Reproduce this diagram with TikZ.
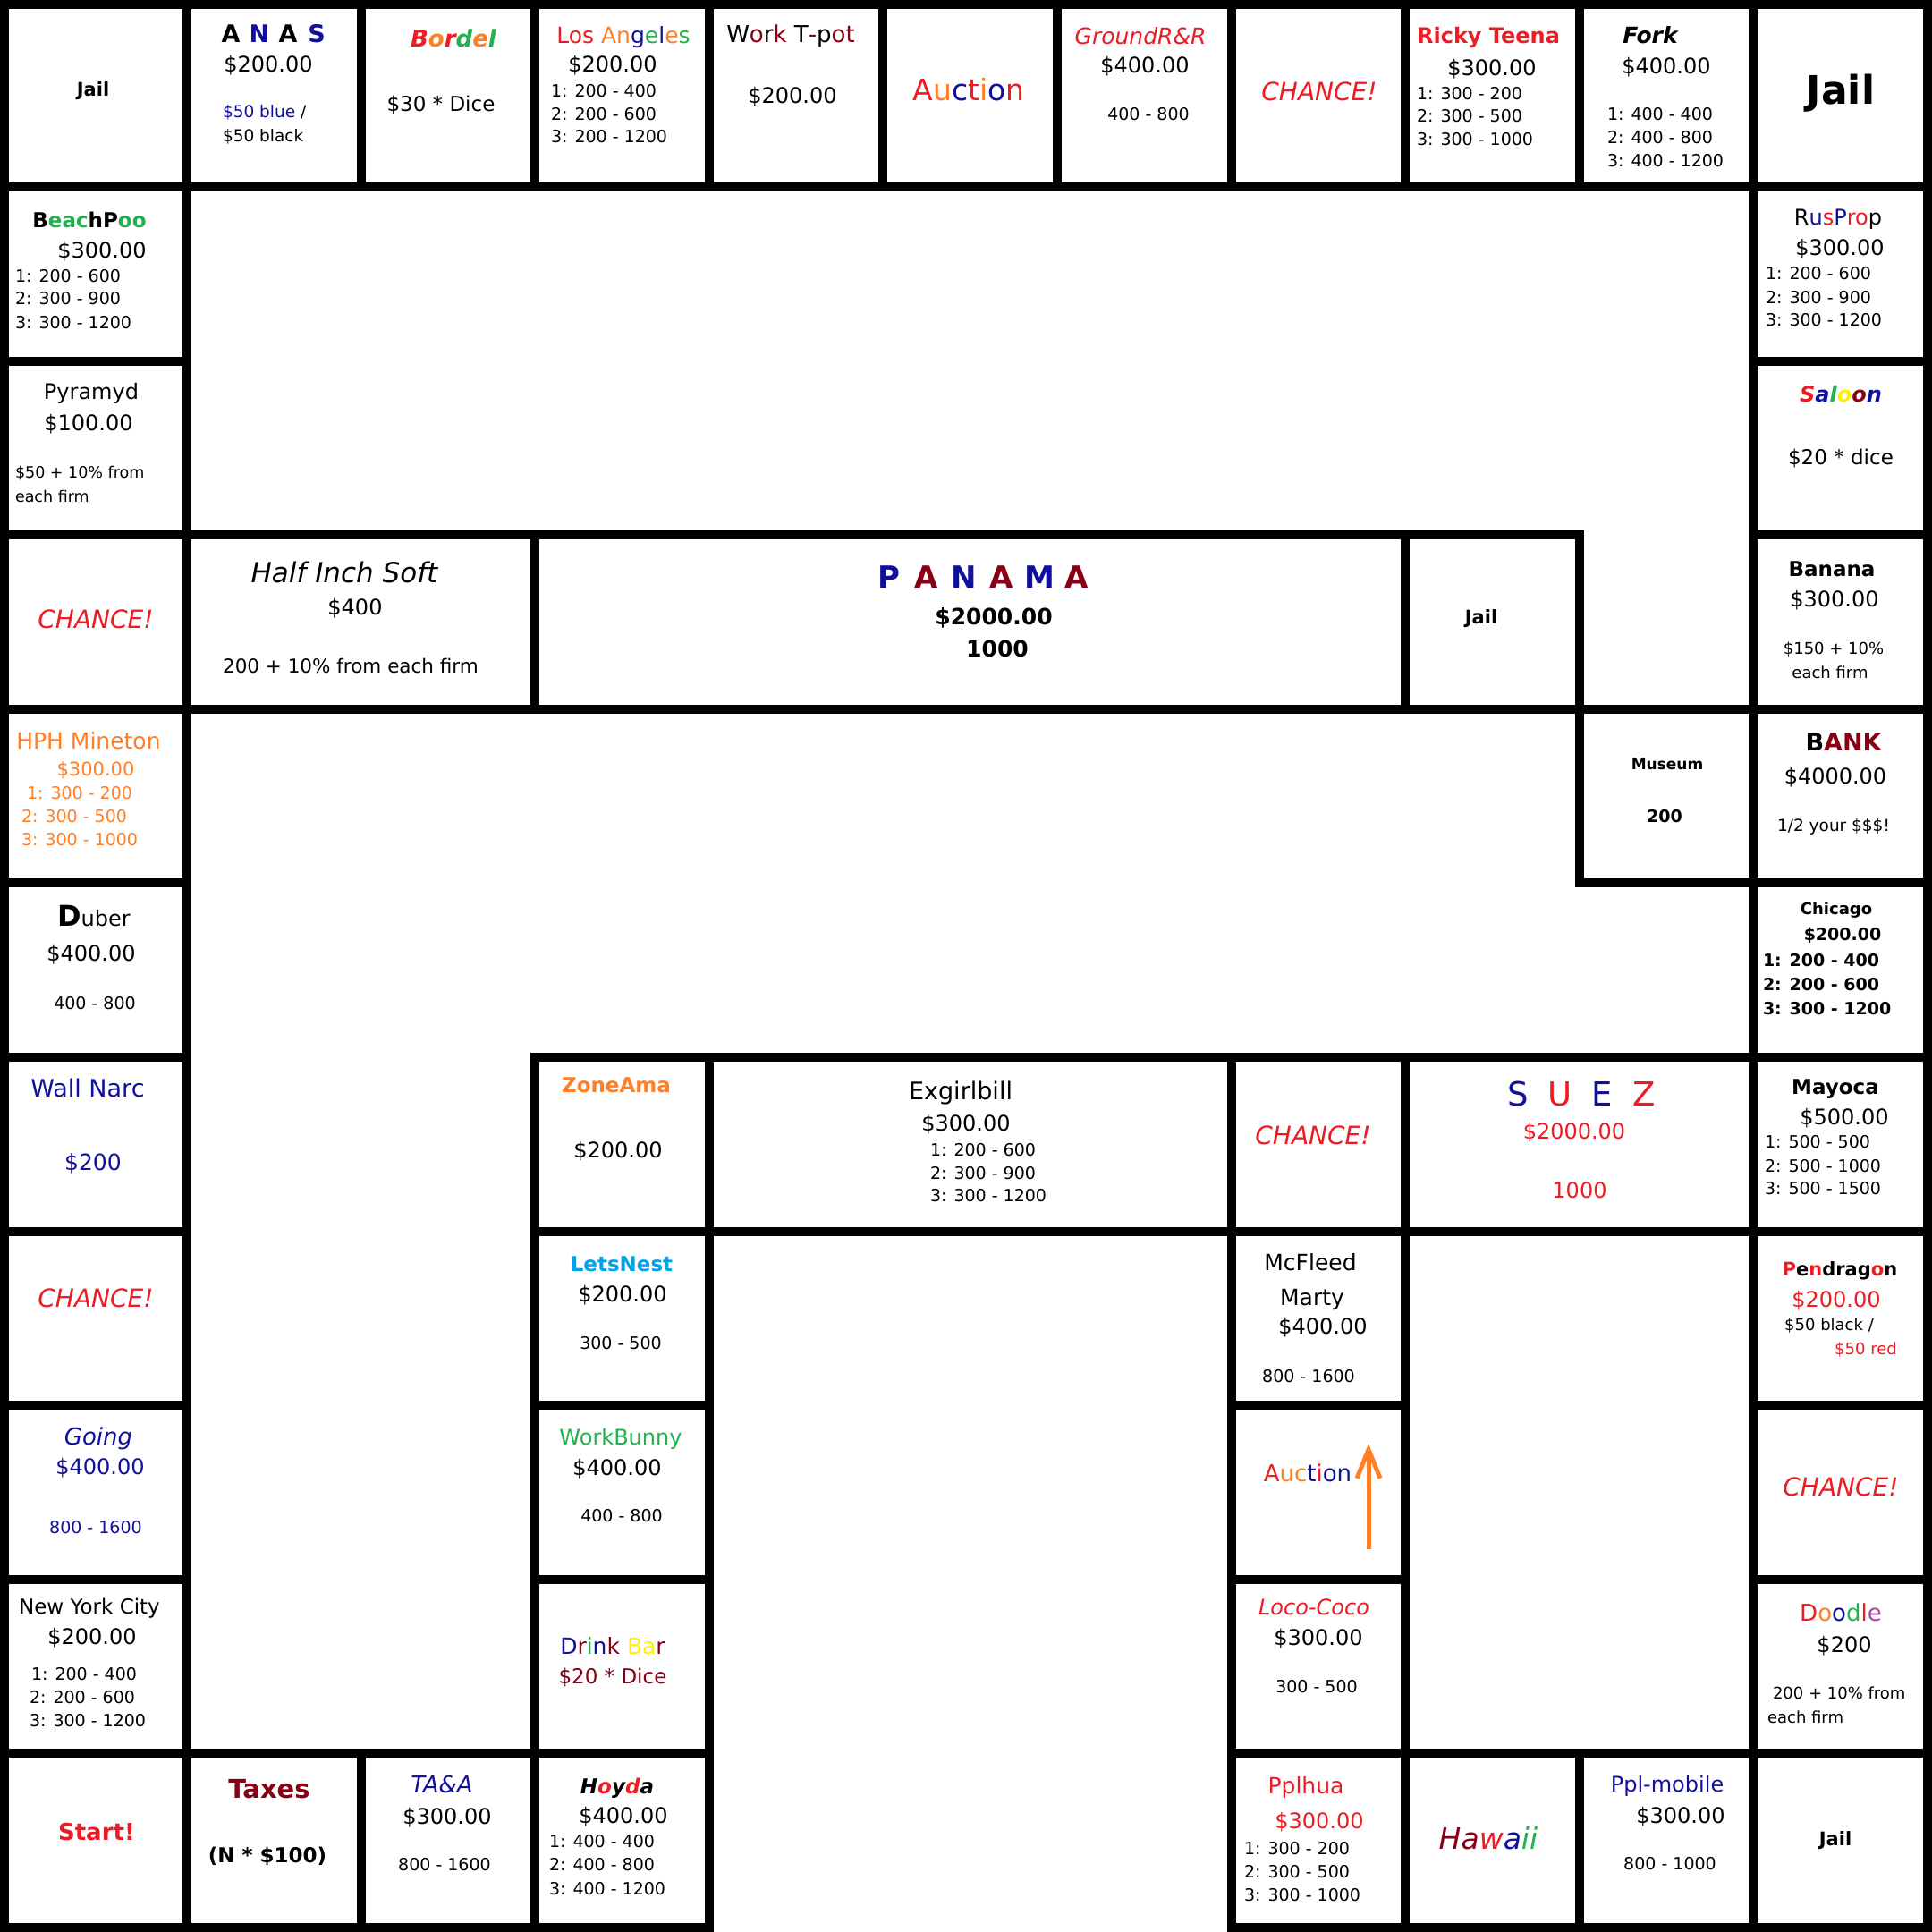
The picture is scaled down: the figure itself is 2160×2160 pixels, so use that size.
\documentclass[tikz,border=0pt]{standalone}
\usepackage{fontspec}
\setmainfont{DejaVu Sans}
\usetikzlibrary{arrows.meta}
\definecolor{cred}{HTML}{ED1C24}
\definecolor{corange}{HTML}{FF7F27}
\definecolor{cnavy}{HTML}{10109C}
\definecolor{cmaroon}{HTML}{880015}
\definecolor{cgreen}{HTML}{22B14C}
\definecolor{cyellow}{HTML}{FFF200}
\definecolor{cblue}{HTML}{00A2E8}
\definecolor{cpurple}{HTML}{A349A4}
\newcommand\fsz[1]{\fontsize{#1}{#1}\selectfont}
\newcommand\cc[2]{\textcolor{#1}{#2}}
\newcommand\lb[2]{\makebox[#1pt][c]{#2}}
\begin{document}
\begin{tikzpicture}[x=1pt,y=-1pt,
  declare function={gx(\i)=ifthenelse(\i==0,5,ifthenelse(\i==11,2155,209+194.6*(\i-1)));},
  cellbox/.style={draw=black,line width=10pt,fill=white},
  tx/.style={inner sep=0pt,outer sep=0pt,font=\fsz{#1},anchor=base,yshift={-0.365*#1}},
  tb/.style={tx=#1,font=\fsz{#1}\bfseries},
  ti/.style={tx=#1,font=\fsz{#1}\itshape},
  tbi/.style={tx=#1,font=\fsz{#1}\bfseries\itshape},
  lx/.style={tx=#1,anchor=base west},
  lb/.style={tb=#1,anchor=base west},
]
\fill[white] (0,0) rectangle (2160,2160);
\useasboundingbox (0,0) rectangle (2160,2160);
% top row
\foreach \k in {0,...,10}{
  \draw[cellbox] ({gx(\k)},{gx(0)}) rectangle ({gx(\k+1)},{gx(1)});
}
% left and right columns
\foreach \r in {1,...,10}{
  \draw[cellbox] ({gx(0)},{gx(\r)}) rectangle ({gx(1)},{gx(\r+1)});
  \draw[cellbox] ({gx(10)},{gx(\r)}) rectangle ({gx(11)},{gx(\r+1)});
}
% inner cells
\foreach \a/\b/\c/\d in {1/3/3/4, 3/3/8/4, 8/3/9/4, 9/4/10/5,
  3/6/4/7, 4/6/7/7, 7/6/8/7, 8/6/10/7,
  3/7/4/8, 3/8/4/9, 3/9/4/10, 3/10/4/11,
  7/7/8/8, 7/8/8/9, 7/9/8/10, 7/10/8/11,
  1/10/2/11, 2/10/3/11, 8/10/9/11, 9/10/10/11}{
  \draw[cellbox] ({gx(\a)},{gx(\b)}) rectangle ({gx(\c)},{gx(\d)});
}

% ---------- top row ----------
\node[tb=21] (jail1) at (104,100) {Jail};
\node[tb=27] (anas) at (306,38) {\lb{32}{A}\lb{32}{\cc{cnavy}{N}}\lb{32}{A}\lb{32}{\cc{cnavy}{S}}};
\node[tx=24] (anasp) at (300,72) {\$200.00};
\node[lx=18.5] (anasa) at (249,125) {\cc{cnavy}{\$50 blue} /};
\node[lx=18.5] (anasb) at (249,152) {\$50 black};

\node[tbi=26] (bord) at (507,43) {\cc{cred}{B}\cc{corange}{o}\cc{cred}{r}\cc{cgreen}{d}\cc{corange}{e}\cc{cgreen}{l}};
\node[tx=23] (bordp) at (493,116) {\$30 * Dice};

\node[tx=25] (la) at (697,39) {\cc{cred}{Los} \cc{corange}{An}\cc{cnavy}{g}\cc{cgreen}{e}\cc{cnavy}{l}\cc{corange}{e}\cc{cgreen}{s}};
\node[tx=24] (lap) at (685,72) {\$200.00};
\node[lx=19] (la1) at (616,102) {1: 200 - 400};
\node[lx=19] (la2) at (616,128) {2: 200 - 600};
\node[lx=19] (la3) at (616,153) {3: 200 - 1200};

\node[tx=26] (wtp) at (884,38) {W\cc{cmaroon}{o}r\cc{cmaroon}{k} T\cc{cmaroon}{-}p\cc{cmaroon}{ot}};
\node[tx=24] (wtpp) at (886,107) {\$200.00};

\node[tx=33] (auc1) at (1083,100) {\cc{cred}{A}\cc{corange}{u}\cc{cnavy}{c}\cc{cred}{t}\cc{corange}{i}\cc{cnavy}{o}\cc{cred}{n}};

\node[ti=25,text=cred] (grr) at (1275,40) {GroundR\&R};
\node[tx=24] (grrp) at (1280,73) {\$400.00};
\node[tx=19] (grr1) at (1284,128) {400 - 800};

\node[ti=28,text=cred] (ch1) at (1475,102) {CHANCE!};

\node[tb=24,text=cred] (rt) at (1664,40) {Ricky Teena};
\node[tx=24] (rtp) at (1668,76) {\$300.00};
\node[lx=19] (rt1) at (1584,105) {1: 300 - 200};
\node[lx=19] (rt2) at (1584,130) {2: 300 - 500};
\node[lx=19] (rt3) at (1584,156) {3: 300 - 1000};

\node[tbi=25] (fork) at (1845,39) {Fork};
\node[tx=24] (forkp) at (1863,74) {\$400.00};
\node[lx=19] (fork1) at (1797,128) {1: 400 - 400};
\node[lx=19] (fork2) at (1797,154) {2: 400 - 800};
\node[lx=19] (fork3) at (1797,180) {3: 400 - 1200};

\node[tb=44] (jail2) at (2058,100) {Jail};

% ---------- left column ----------
\node[tb=23] (bp) at (100,246) {B\cc{cgreen}{eac}hP\cc{cgreen}{oo}};
\node[tx=24] (bpp) at (114,280) {\$300.00};
\node[lx=19] (bp1) at (17,309) {1: 200 - 600};
\node[lx=19] (bp2) at (17,334) {2: 300 - 900};
\node[lx=19] (bp3) at (17,361) {3: 300 - 1200};

\node[tx=24] (pyr) at (102,438) {Pyramyd};
\node[tx=24] (pyrp) at (99,473) {\$100.00};
\node[lx=17.5] (pyr1) at (17,528) {\$50 + 10\% from};
\node[lx=17.5] (pyr2) at (17,555) {each firm};

\node[ti=28,text=cred] (ch2) at (107,692) {CHANCE!};

\node[tx=25,text=corange] (hph) at (99,828) {HPH Mineton};
\node[tx=21,text=corange] (hphp) at (107,860) {\$300.00};
\node[lx=19,text=corange] (hph1) at (30,887) {1: 300 - 200};
\node[lx=19,text=corange] (hph2) at (24,913) {2: 300 - 500};
\node[lx=19,text=corange] (hph3) at (24,939) {3: 300 - 1000};

\node[tx=24] (dub) at (105,1027) {{\fsz{32}\bfseries D}uber};
\node[tx=24] (dubp) at (102,1066) {\$400.00};
\node[tx=19] (dub1) at (106,1122) {400 - 800};

\node[tx=27,text=cnavy] (wn) at (98,1217) {Wall Narc};
\node[tx=25,text=cnavy] (wnp) at (104,1299) {\$200};

\node[ti=28,text=cred] (ch3) at (107,1451) {CHANCE!};

\node[ti=26,text=cnavy] (go) at (110,1606) {Going};
\node[tx=24,text=cnavy] (gop) at (112,1640) {\$400.00};
\node[tx=19,text=cnavy] (go1) at (107,1708) {800 - 1600};

\node[tx=23] (nyc) at (100,1796) {New York City};
\node[tx=24] (nycp) at (103,1830) {\$200.00};
\node[lx=19] (nyc1) at (35,1872) {1: 200 - 400};
\node[lx=19] (nyc2) at (33,1898) {2: 200 - 600};
\node[lx=19] (nyc3) at (33,1924) {3: 300 - 1200};

\node[tb=26,text=cred] (start) at (108,2048) {Start!};

% ---------- right column ----------
\node[tx=24] (rp) at (2055,243) {R\cc{cnavy}{u}\cc{cred}{s}\cc{cnavy}{P}\cc{cred}{ro}p};
\node[tx=24] (rpp) at (2057,277) {\$300.00};
\node[lx=19] (rp1) at (1974,306) {1: 200 - 600};
\node[lx=19] (rp2) at (1974,333) {2: 300 - 900};
\node[lx=19] (rp3) at (1974,358) {3: 300 - 1200};

\node[tbi=24] (sal) at (2058,441) {\cc{cred}{S}\cc{cnavy}{a}\cc{cgreen}{l}\cc{cyellow}{o}\cc{cmaroon}{o}\cc{cnavy}{n}};
\node[tx=23] (salp) at (2058,511) {\$20 * dice};

\node[tb=23] (ban) at (2048,636) {Banana};
\node[tx=24] (banp) at (2051,670) {\$300.00};
\node[tx=18] (ban1) at (2050,725) {\$150 + 10\%};
\node[tx=18] (ban2) at (2046,752) {each firm};

\node[tb=27] (bank) at (2061,830) {B\cc{cmaroon}{ANK}};
\node[tx=24] (bankp) at (2052,868) {\$4000.00};
\node[tx=18.5] (bank1) at (2050,923) {1/2 your \$\$\$!};

\node[tb=18] (chi) at (2053,1016) {Chicago};
\node[tb=19] (chip) at (2060,1045) {\$200.00};
\node[lb=19] (chi1) at (1971,1074) {1: 200 - 400};
\node[lb=19] (chi2) at (1971,1101) {2: 200 - 600};
\node[lb=19] (chi3) at (1971,1128) {3: 300 - 1200};

\node[tb=23] (may) at (2052,1215) {Mayoca};
\node[tx=24] (mayp) at (2062,1249) {\$500.00};
\node[lx=19] (may1) at (1973,1277) {1: 500 - 500};
\node[lx=19] (may2) at (1973,1304) {2: 500 - 1000};
\node[lx=19] (may3) at (1973,1329) {3: 500 - 1500};

\node[tb=21] (pen) at (2057,1419) {\cc{cred}{P}e\cc{cred}{n}drag\cc{cred}{o}n};
\node[tx=24,text=cred] (penp) at (2053,1453) {\$200.00};
\node[tx=18] (pen1) at (2045,1481) {\$50 black /};
\node[tx=18,text=cred] (pen2) at (2086,1508) {\$50 red};

\node[ti=28,text=cred] (ch4) at (2058,1662) {CHANCE!};

\node[tx=26] (doo) at (2058,1803) {\cc{cred}{D}\cc{corange}{o}\cc{cnavy}{o}\cc{cgreen}{d}\cc{cred}{l}\cc{cpurple}{e}};
\node[tx=24] (doop) at (2062,1839) {\$200};
\node[lx=18] (doo1) at (1982,1893) {200 + 10\% from};
\node[lx=18] (doo2) at (1976,1920) {each firm};

\node[tb=21] (jail3) at (2052,2056) {Jail};

% ---------- middle row 3 ----------
\node[ti=31] (his) at (385,640) {Half Inch Soft};
\node[tx=24] (hisp) at (397,679) {\$400};
\node[tx=21.5] (his1) at (392,745) {200 + 10\% from each firm};

\node[tb=34] (pan) at (1099,645) {\lb{42}{\cc{cnavy}{P}}\lb{42}{\cc{cmaroon}{A}}\lb{42}{\cc{cnavy}{N}}\lb{42}{\cc{cmaroon}{A}}\lb{42}{\cc{cnavy}{M}}\lb{42}{\cc{cmaroon}{A}}};
\node[tb=25] (panp) at (1111,689) {\$2000.00};
\node[tb=25] (pan1) at (1115,725) {1000};

\node[tb=21] (jail4) at (1656,690) {Jail};

\node[tb=17] (mus) at (1864,854) {Museum};
\node[tb=19] (musp) at (1861,913) {200};

% ---------- middle row 6 ----------
\node[tb=23,text=corange] (za) at (689,1213) {ZoneAma};
\node[tx=24] (zap) at (691,1286) {\$200.00};

\node[tx=27] (exg) at (1074,1220) {Exgirlbill};
\node[tx=24] (exgp) at (1080,1256) {\$300.00};
\node[lx=19] (exg1) at (1040,1286) {1: 200 - 600};
\node[lx=19] (exg2) at (1040,1312) {2: 300 - 900};
\node[lx=19] (exg3) at (1040,1337) {3: 300 - 1200};

\node[ti=28,text=cred] (ch5) at (1468,1269) {CHANCE!};

\node[tx=37] (suez) at (1768,1223) {\lb{47}{\cc{cnavy}{S}}\lb{47}{\cc{cred}{U}}\lb{47}{\cc{cnavy}{E}}\lb{47}{\cc{cred}{Z}}};
\node[tx=24,text=cred] (suezp) at (1760,1265) {\$2000.00};
\node[tx=24,text=cred] (suez1) at (1766,1331) {1000};

% ---------- column 3 ----------
\node[tb=23,text=cblue] (ln) at (695,1413) {LetsNest};
\node[tx=24] (lnp) at (696,1447) {\$200.00};
\node[tx=19] (ln1) at (694,1502) {300 - 500};

\node[tx=24,text=cgreen] (wb) at (694,1607) {WorkBunny};
\node[tx=24] (wbp) at (690,1641) {\$400.00};
\node[tx=19] (wb1) at (695,1695) {400 - 800};

\node[tx=25] (db) at (685,1840) {\cc{cnavy}{D}\cc{cmaroon}{r}\cc{cgreen}{i}\cc{cnavy}{n}\cc{cmaroon}{k} \cc{cyellow}{Ba}\cc{cmaroon}{r}};
\node[tx=23,text=cmaroon] (dbp) at (685,1874) {\$20 * Dice};

\node[tbi=23] (hoy) at (690,1997) {H\cc{cred}{o}y\cc{cred}{d}a};
\node[tx=24] (hoyp) at (697,2030) {\$400.00};
\node[lx=19] (hoy1) at (614,2059) {1: 400 - 400};
\node[lx=19] (hoy2) at (614,2085) {2: 400 - 800};
\node[lx=19] (hoy3) at (614,2112) {3: 400 - 1200};

% ---------- column 7 ----------
\node[tx=25] (mcf) at (1465,1411) {McFleed};
\node[tx=25] (mcf2) at (1467,1450) {Marty};
\node[tx=24] (mcfp) at (1479,1483) {\$400.00};
\node[tx=19] (mcf1) at (1463,1539) {800 - 1600};

\node[tx=26] (auc2) at (1462,1647) {\cc{cred}{A}\cc{corange}{u}\cc{corange}{c}\cc{cnavy}{t}\cc{cred}{i}\cc{cnavy}{o}\cc{cnavy}{n}};
\coordinate (arrS) at (1530,1732);
\coordinate (arrE) at (1530,1614);
\draw[corange,line width=5pt,-{Straight Barb[length=32pt,width=26pt]}] (arrS) -- (arrE);

\node[ti=24,text=cred] (loco) at (1469,1797) {Loco-Coco};
\node[tx=24] (locop) at (1474,1831) {\$300.00};
\node[tx=19] (loco1) at (1472,1886) {300 - 500};

\node[tx=25,text=cred] (pph) at (1460,1996) {Pplhua};
\node[tx=24,text=cred] (pphp) at (1475,2036) {\$300.00};
\node[lx=19] (pph1) at (1391,2067) {1: 300 - 200};
\node[lx=19] (pph2) at (1391,2093) {2: 300 - 500};
\node[lx=19] (pph3) at (1391,2119) {3: 300 - 1000};

% ---------- bottom row ----------
\node[ti=33] (haw) at (1664,2055) {\cc{cmaroon}{Ha}\cc{cred}{w}\cc{cnavy}{a}\cc{cgreen}{ii}};
\node[tx=24,text=cnavy] (ppm) at (1864,1995) {Ppl-mobile};
\node[tx=24] (ppmp) at (1879,2030) {\$300.00};
\node[tx=19] (ppm1) at (1867,2084) {800 - 1000};

\node[tb=29,text=cmaroon] (tax) at (301,2000) {Taxes};
\node[tb=23] (taxp) at (299,2074) {(N * \$100)};

\node[ti=26,text=cnavy] (taa) at (494,1995) {TA\&A};
\node[tx=24] (taap) at (500,2031) {\$300.00};
\node[tx=19] (taa1) at (497,2085) {800 - 1600};
\end{tikzpicture}
\end{document}
